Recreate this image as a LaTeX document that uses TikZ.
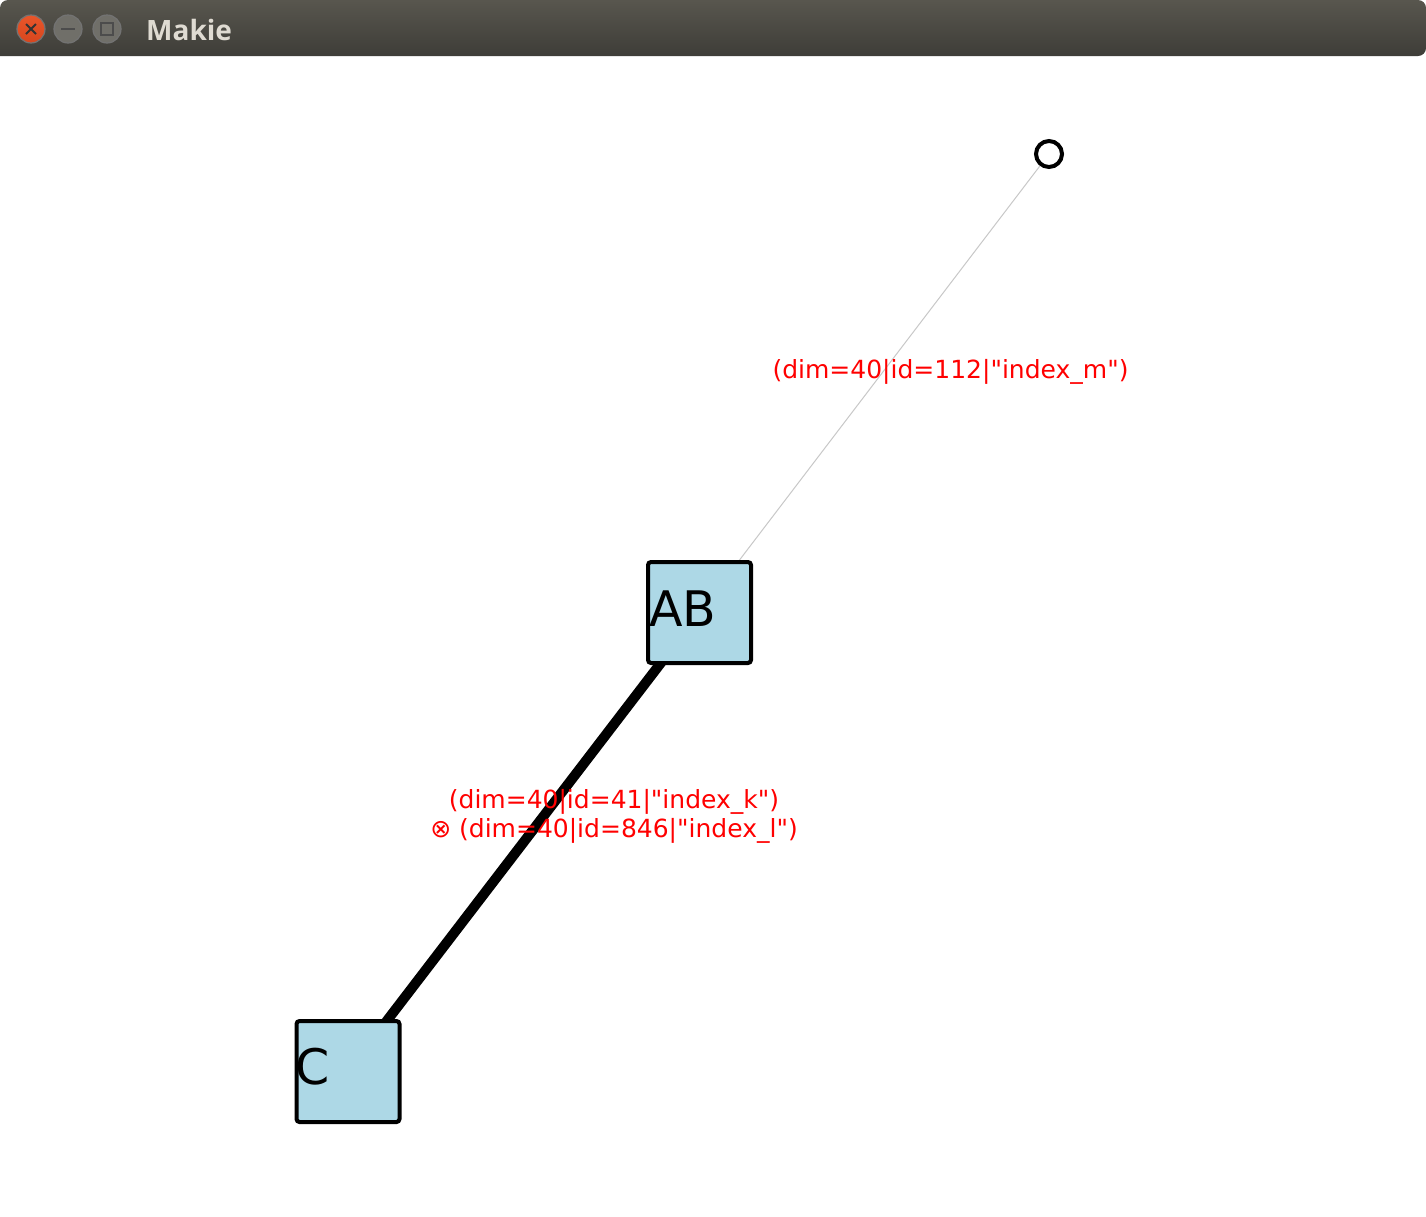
\documentclass[tikz,border=0pt]{standalone}
\usepackage{fontspec}
\setmainfont{DejaVu Sans}[Ligatures=TeXOff]
\newfontfamily\titlefont{Open Sans}
\usetikzlibrary{calc,backgrounds}
\definecolor{nodeblue}{RGB}{173,216,230}
\definecolor{edgegray}{RGB}{200,200,200}
\definecolor{barTop}{RGB}{88,86,78}
\definecolor{barBot}{RGB}{62,61,56}
\definecolor{closeRed}{RGB}{233,86,42}
\definecolor{closeRedDark}{RGB}{215,70,30}
\definecolor{btnGray}{RGB}{112,111,105}
\definecolor{titleText}{RGB}{223,219,210}
\tikzset{
  tensorbox/.style={draw=black, line width=4pt, fill=nodeblue, rounded corners=3pt,
    minimum width=103pt, minimum height=101pt, inner sep=0pt},
  boxtext/.style={anchor=base west, inner sep=0pt, font=\fontsize{49}{58}\selectfont},
  openleg/.style={circle, draw=black, line width=4pt, fill=white, minimum size=26pt, inner sep=0pt},
  edgelabel/.style={text=red, font=\fontsize{25}{29}\selectfont, align=center, inner sep=0pt},
  winbtn/.style={circle, minimum size=28pt, inner sep=0pt, draw=black!55, line width=1.2pt},
}
\begin{document}
\begin{tikzpicture}[x=1pt,y=-1pt]
\useasboundingbox (0,0) rectangle (1426,1216);
% title bar
\shade[top color=barTop, bottom color=barBot, rounded corners=8pt]
  (0,56) -- (0,0) -- (1426,0) -- (1426,56) [sharp corners] -- cycle;
\node[winbtn, top color=closeRed, bottom color=closeRedDark] (close) at (31,29) {};
\draw[line width=2pt, black!80] ($(close)+(-5,-5)$) -- ($(close)+(5,5)$)
  ($(close)+(5,-5)$) -- ($(close)+(-5,5)$);
\node[winbtn, fill=btnGray] (minb) at (68,29) {};
\draw[line width=2pt, black!70] ($(minb)+(-7,0)$) -- ($(minb)+(7,0)$);
\node[winbtn, fill=btnGray] (maxb) at (107,29) {};
\draw[line width=1.6pt, black!70] ($(maxb)+(-6,-6)$) rectangle ($(maxb)+(6,6)$);
\node[anchor=base west, inner sep=0pt, text=titleText, font=\titlefont\bfseries\fontsize{28}{32}\selectfont] (title) at (146,40) {Makie};
% nodes
\node[tensorbox] (AB) at (699.5,612.5) {};
\node[boxtext] (ABtext) at (649,626.5) {AB};
\node[tensorbox] (C) at (348,1071.5) {};
\node[boxtext] (Ctext) at (295,1084.5) {C};
\node[openleg] (leg) at (1049,154) {};
% edges
\begin{pgfonlayer}{background}
\fill[white] (0,56) rectangle (1426,1216);
\draw[edgegray, line width=1pt] (AB.center) -- (leg.center);
\draw[black, line width=10pt] (AB.center) -- (C.center);
\end{pgfonlayer}
% labels
\node[edgelabel] (lab1) at (950.5,372) {(dim=40|id=112|"index\_m")};
\node[edgelabel] (lab2) at (614,816) {(dim=40|id=41|"index\_k")\\ ⊗ (dim=40|id=846|"index\_l")};
\end{tikzpicture}
\end{document}
